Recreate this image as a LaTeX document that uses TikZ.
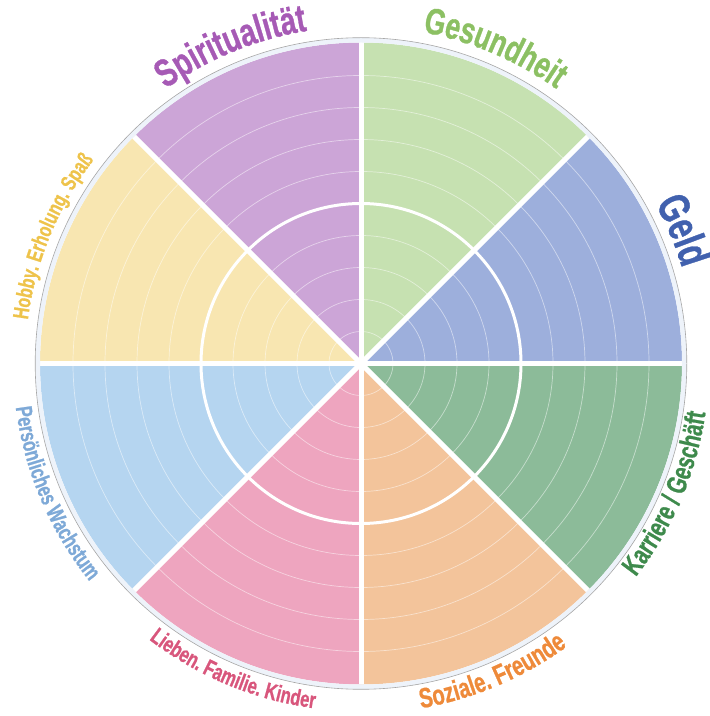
\documentclass[tikz,border=0pt]{standalone}
\usepackage{fontspec}
\usepackage{tikz}
\usetikzlibrary{decorations.text}
\usepackage{xcolor}
\newfontfamily\wheelfont[FakeStretch=0.72,FakeBold=0.8]{Liberation Sans}
\definecolor{gesfill}{HTML}{C6E1B1}\definecolor{gestext}{HTML}{8CC063}
\definecolor{geldfill}{HTML}{9DAFDC}\definecolor{geldtext}{HTML}{4161AE}
\definecolor{karrfill}{HTML}{8CBB99}\definecolor{karrtext}{HTML}{3E8A4C}
\definecolor{sozfill}{HTML}{F3C49B}\definecolor{soztext}{HTML}{EE8A3A}
\definecolor{liebfill}{HTML}{EEA5BF}\definecolor{liebtext}{HTML}{D8567C}
\definecolor{perfill}{HTML}{B5D5F0}\definecolor{pertext}{HTML}{7EA9D7}
\definecolor{hobfill}{HTML}{F8E6B1}\definecolor{hobtext}{HTML}{EEC34B}
\definecolor{spirfill}{HTML}{CCA5D7}\definecolor{spirtext}{HTML}{A65AB5}
\definecolor{rimblue}{HTML}{EEF3FA}
\newcommand{\wheellabel}[6]{%
  \path[decorate,decoration={text along path,text align=center,text color=#5,
    text={|\wheelfont\bfseries\fontsize{#4}{#4}\selectfont|#6}}]
    (c) ++(#1:#3) arc[start angle=#1,end angle=#2,radius=#3];}

\begin{document}
\begin{tikzpicture}[x=1pt,y=1pt,
  ring/.style={white,opacity=0.5,line width=0.7pt},
  spoke/.style={white,line width=5pt}]
	\useasboundingbox (0,0) rectangle (710,716);
	\coordinate (c) at (361,352.5);
	\foreach \a/\col in {90/spirfill,45/gesfill,0/geldfill,-45/karrfill,-90/sozfill,-135/liebfill,180/perfill,135/hobfill}
		\fill[\col] (c) -- ++(\a:321) arc[start angle=\a,end angle=\a+45,radius=321] -- cycle;
	\foreach \r in {32,64,...,288}
		\draw[ring] (c) circle[radius=\r];
	\draw[white,line width=3pt] (c) circle[radius=160];
	\foreach \a in {0,45,...,315}
		\draw[spoke] (c) -- ++(\a:321);
	\fill[white] (c) circle[radius=6];
	\draw[rimblue,line width=4.6pt] (c) circle[radius=323.3];
	\draw[black!35,line width=0.6pt] (c) circle[radius=325.8];
	\wheellabel{142.3}{82.3}{337}{39}{spirtext}{Spiritualität}
	\wheellabel{97}{37}{337}{37}{gestext}{Gesundheit}
	\wheellabel{42.5}{2.5}{335}{44}{geldtext}{Geld}
	\wheellabel{-53}{7}{348}{28}{karrtext}{Karriere / Geschäft}
	\wheellabel{-97}{-37}{350}{28}{soztext}{Soziale. Freunde}
	\wheellabel{-142.6}{-82.6}{348}{23}{liebtext}{Lieben. Familie. Kinder}
	\wheellabel{173}{233}{348}{23}{pertext}{Persönliches Wachstum}
	\wheellabel{187.6}{127.6}{336}{22}{hobtext}{Hobby. Erholung. Spaß}
\end{tikzpicture}
\end{document}
